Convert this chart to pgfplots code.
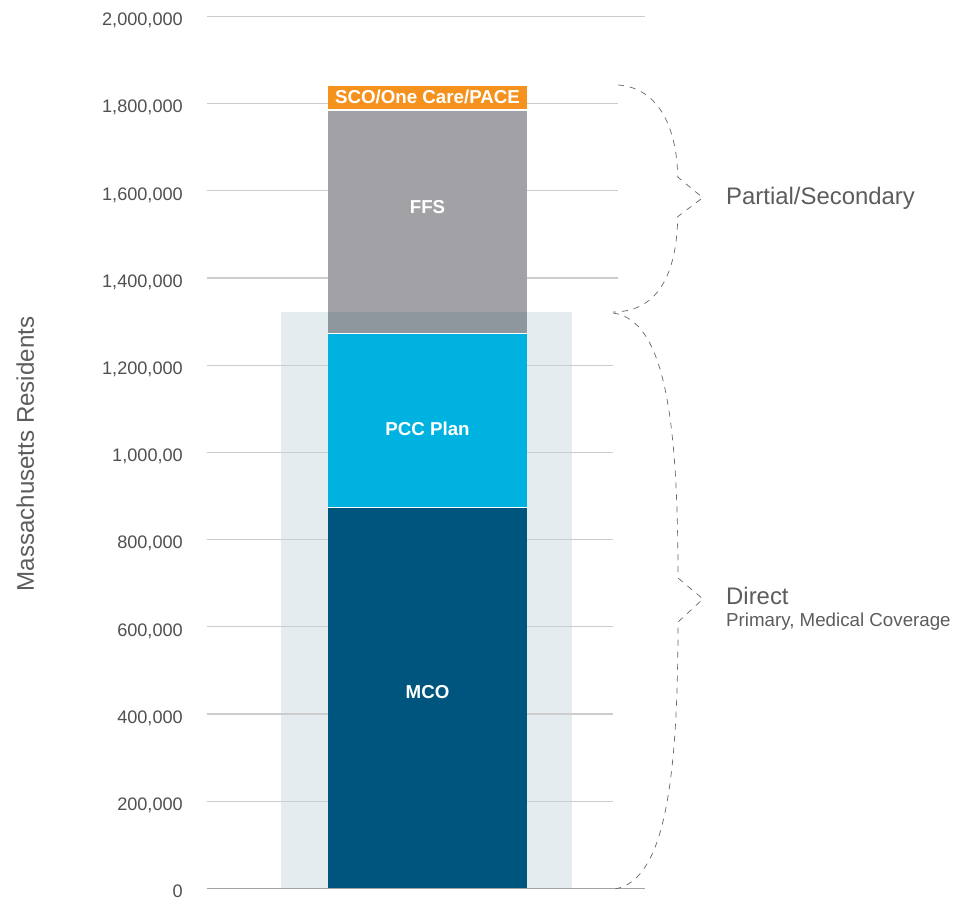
\documentclass[border=0pt]{standalone}
\usepackage{fontspec}
\setmainfont{Liberation Sans}
\usepackage{pgfplots}
\pgfplotsset{compat=1.18}
\definecolor{cOrange}{HTML}{F5921E}
\definecolor{cGrey}{HTML}{A2A1A6}
\definecolor{cOverlap}{HTML}{8F979E}
\definecolor{cCyan}{HTML}{00B2DF}
\definecolor{cBlue}{HTML}{00557F}
\definecolor{cShade}{HTML}{E4ECEF}
\definecolor{cGrid}{HTML}{CCCCCC}
\definecolor{cBase}{HTML}{A3A3A3}
\definecolor{cTick}{HTML}{505050}
\definecolor{cLab}{HTML}{5C5C5C}
\definecolor{cBrace}{HTML}{666666}
\begin{document}
\begin{tikzpicture}[x=1bp,y=1bp]
\path[use as bounding box] (-207,-11.5) rectangle (749,888.5);
\pgfplotsset{base/.style={scale only axis, width=438bp, height=872bp,
  xmin=0, xmax=438, ymin=0, ymax=2000000, at={(0,0)}, anchor=south west, clip=false}}
% background, grid, ticks
\begin{axis}[base, hide x axis, axis y line*=left, y axis line style={draw=none},
  major tick length=0pt, scaled y ticks=false,
  ytick={0,200000,400000,600000,800000,1000000,1200000,1400000,1600000,1800000,2000000},
  yticklabels={0,{200,000},{400,000},{600,000},{800,000},{1,000,00},{1,200,000},{1,400,000},{1,600,000},{1,800,000},{2,000,000}},
  yticklabel style={font=\fontsize{18.2}{20}\selectfont, text=cTick, anchor=base east, inner sep=0pt, xshift=-24bp, yshift=-9.3bp}]
\addplot[fill=cShade, draw=none] coordinates {(74,0) (74,1322200) (365,1322200) (365,0)} -- cycle;
\draw[cGrid, line width=1.2bp] (axis cs:0,2000000) -- (axis cs:438,2000000);
\draw[cGrid, line width=1.2bp] (axis cs:0,1800000) -- (axis cs:411,1800000);
\draw[cGrid, line width=1.2bp] (axis cs:0,1600000) -- (axis cs:411,1600000);
\draw[cGrid, line width=1.2bp] (axis cs:0,1400000) -- (axis cs:411,1400000);
\draw[cGrid, line width=1.2bp] (axis cs:0,1200000) -- (axis cs:406,1200000);
\draw[cGrid, line width=1.2bp] (axis cs:0,1000000) -- (axis cs:406,1000000);
\draw[cGrid, line width=1.2bp] (axis cs:0,800000) -- (axis cs:406,800000);
\draw[cGrid, line width=1.2bp] (axis cs:0,600000) -- (axis cs:406,600000);
\draw[cGrid, line width=1.2bp] (axis cs:0,400000) -- (axis cs:406,400000);
\draw[cGrid, line width=1.2bp] (axis cs:0,200000) -- (axis cs:406,200000);
\end{axis}
% stacked bar
\begin{axis}[base, hide axis, ybar stacked, bar width=199]
\addplot[fill=cBlue, draw=none] coordinates {(220.5,874500)};
\addplot[fill=cCyan, draw=none] coordinates {(220.5,398500)};
\addplot[fill=cGrey, draw=none] coordinates {(220.5,512500)};
\addplot[fill=cOrange, draw=none] coordinates {(220.5,55800)};
\end{axis}
% overlay
\begin{axis}[base, hide axis]
\addplot[fill=cOverlap, draw=none] coordinates {(121,1273000) (320,1273000) (320,1322200) (121,1322200)} -- cycle;
\draw[white, line width=1bp] (axis cs:121,874500) -- (axis cs:320,874500);
\draw[white, line width=1bp] (axis cs:121,1273000) -- (axis cs:320,1273000);
\draw[white, line width=1.5bp] (axis cs:121,1785500) -- (axis cs:320,1785500);
\draw[cBase, line width=1.5bp] (axis cs:0,0) -- (axis cs:438,0);
\end{axis}
% bar labels
\begin{scope}[every node/.style={inner sep=0pt, anchor=base, text=white, font=\fontsize{18.8}{20}\selectfont\bfseries}]
\node at (220.5,785.2) {SCO/One Care/PACE};
\node at (220.5,675) {FFS};
\node at (220.5,452.5) {PCC Plan};
\node at (220.5,190.2) {MCO};
\end{scope}
% y label
\node[rotate=90, anchor=base, inner sep=0pt, text=cLab, font=\fontsize{24.2}{26}\selectfont] at (-173,434.5) {Massachusetts Residents};
% braces
\begin{scope}[cBrace, line width=0.7bp, dash pattern=on 6bp off 6bp]
\draw (411,803.5) .. controls (453,800.5) and (470,758.5) .. (470.7,711.5) -- (495.7,690.8) -- (470.7,671.8) .. controls (470,618.5) and (453,576.5) .. (406,576.5);
\draw (406,575.5) .. controls (458,568.5) and (471,468.5) .. (471,310.5) -- (496,289.5) -- (471,266.5) .. controls (471,108.5) and (458,8.5) .. (408,-0.5);
\end{scope}
\node[anchor=base west, inner sep=0pt, text=cLab, font=\fontsize{24}{26}\selectfont] at (519,683.5) {Partial/Secondary};
\node[anchor=base west, inner sep=0pt, text=cLab, font=\fontsize{24}{26}\selectfont] at (519,284) {Direct};
\node[anchor=base west, inner sep=0pt, text=cLab, font=\fontsize{18.8}{20}\selectfont] at (519,261.5) {Primary, Medical Coverage};
\end{tikzpicture}
\end{document}
